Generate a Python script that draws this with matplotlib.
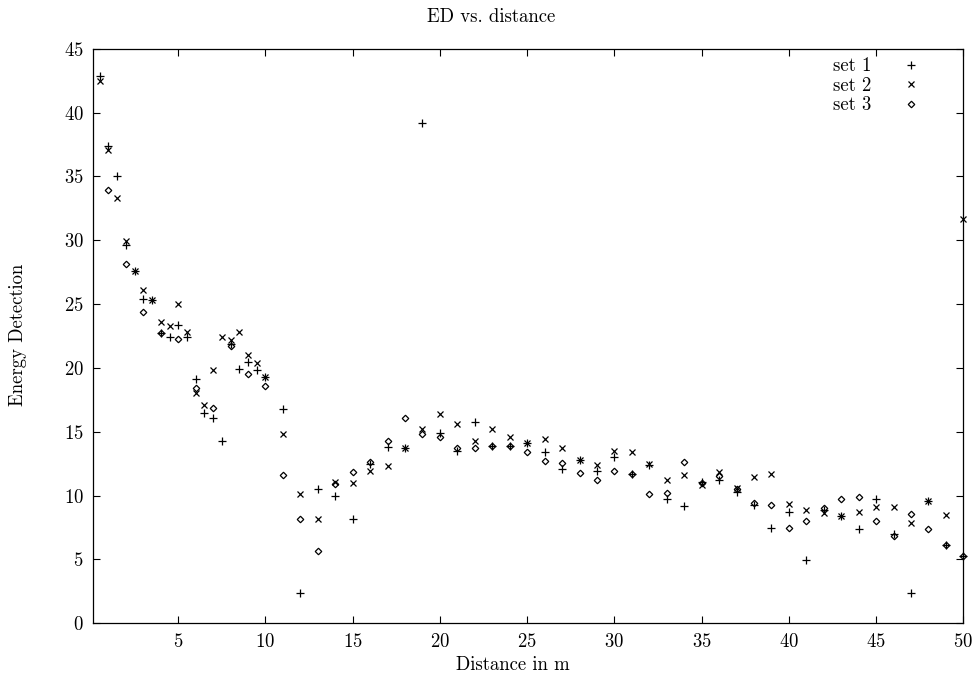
import matplotlib
matplotlib.use("Agg")
import matplotlib.pyplot as plt
import numpy as np

# ---------------- data ----------------
x_half = [0.5, 1, 1.5, 2, 2.5, 3, 3.5, 4, 4.5, 5, 5.5, 6, 6.5, 7, 7.5, 8, 8.5, 9, 9.5, 10]
x_int = list(range(11, 51))
x_set12 = x_half + x_int
x_set3 = list(range(1, 51))

set1 = [42.9, 37.4, 35.0, 29.6, 27.6, 25.4, 25.3, 22.7, 22.4, 23.4,
        22.4, 19.1, 16.5, 16.1, 14.25, 21.9, 19.9, 20.5, 19.8, 19.3,
        16.8, 2.4, 10.5, 10.0, 8.2, 12.5, 13.8, 13.75, 39.2, 14.9,
        13.5, 15.8, 13.9, 13.9, 14.1, 13.4, 12.1, 12.8, 11.9, 13.0,
        11.7, 12.4, 9.7, 9.15, 11.1, 11.2, 10.3, 9.3, 7.45, 8.7,
        4.97, 8.9, 8.4, 7.4, 9.7, 7.0, 2.35, 9.55, 6.15, 5.3]

set2 = [42.5, 37.1, 33.3, 29.95, 27.6, 26.1, 25.3, 23.6, 23.3, 25.0,
        22.8, 18.05, 17.1, 19.8, 22.4, 22.2, 22.8, 21.0, 20.4, 19.3,
        14.8, 10.1, 8.2, 11.1, 11.0, 11.9, 12.3, 13.75, 15.2, 16.4,
        15.6, 14.25, 15.2, 14.6, 14.1, 14.4, 13.7, 12.8, 12.4, 13.5,
        13.4, 12.5, 11.2, 11.65, 10.85, 11.85, 10.6, 11.45, 11.7, 9.35,
        8.85, 8.6, 8.4, 8.7, 9.1, 9.1, 7.85, 9.55, 8.5, 31.65]

set3 = [33.9, 28.1, 24.4, 22.7, 22.3, 18.4, 16.9, 21.7, 19.5, 18.6,
        11.6, 8.2, 5.7, 10.9, 11.85, 12.6, 14.3, 16.1, 14.85, 14.6,
        13.7, 13.7, 13.9, 13.9, 13.4, 12.7, 12.55, 11.8, 11.25, 11.9,
        11.7, 10.1, 10.2, 12.6, 11.0, 11.5, 10.5, 9.45, 9.3, 7.45,
        8.0, 9.0, 9.7, 9.9, 8.05, 6.85, 8.55, 7.4, 6.15, 5.3]

labels = ["set 1", "set 2", "set 3"]
x_ticks = [5, 10, 15, 20, 25, 30, 35, 40, 45, 50]
y_ticks = [0, 5, 10, 15, 20, 25, 30, 35, 40, 45]

# ---------------- style ----------------
FS = 13.5
plt.rcParams['font.family'] = ['cmr10', 'DejaVu Serif']
plt.rcParams['axes.formatter.use_mathtext'] = True
plt.rcParams['font.size'] = FS

fig = plt.figure(figsize=(9.8, 6.84), dpi=100)
L, R, T, B = 93.3, 963.3, 48.7, 623.3
W, H = 980, 684
ax = fig.add_axes([L / W, 1 - B / H, (R - L) / W, (B - T) / H])

ax.plot(x_set12, set1, linestyle='none', marker='+', markersize=6,
        markeredgewidth=0.9, color='black', label=labels[0], clip_on=False)
ax.plot(x_set12, set2, linestyle='none', marker='x', markersize=5,
        markeredgewidth=0.9, color='black', label=labels[1], clip_on=False)
ax.plot(x_set3, set3, linestyle='none', marker='D', markersize=3.3,
        markeredgewidth=0.9, markerfacecolor='none', markeredgecolor='black',
        color='black', label=labels[2], clip_on=False)

ax.set_xlim(0.13, 50)
ax.set_ylim(0, 45)
ax.set_xticks(x_ticks)
ax.set_yticks(y_ticks)
ax.tick_params(direction='in', length=5, width=0.8, top=True, right=True,
               labelsize=FS, pad=7)
for s in ax.spines.values():
    s.set_linewidth(0.9)

leg = ax.legend(loc='upper right', frameon=False, markerfirst=False,
                handlelength=1.2, handletextpad=1.5, labelspacing=0.08,
                borderaxespad=0.0, borderpad=0.4, fontsize=FS,
                bbox_to_anchor=(929.5 / W, 1 - 50 / H),
                bbox_transform=fig.transFigure)

fig.text(491 / W, 1 - 17 / H, "ED vs. distance", ha='center', va='center', fontsize=FS)
fig.text(513 / W, 1 - 665 / H, "Distance in m", ha='center', va='center', fontsize=FS)
fig.text(18 / W, 1 - 335 / H, "Energy Detection", ha='center', va='center',
         rotation=90, fontsize=FS)

fig.savefig("out.png", dpi=100)
